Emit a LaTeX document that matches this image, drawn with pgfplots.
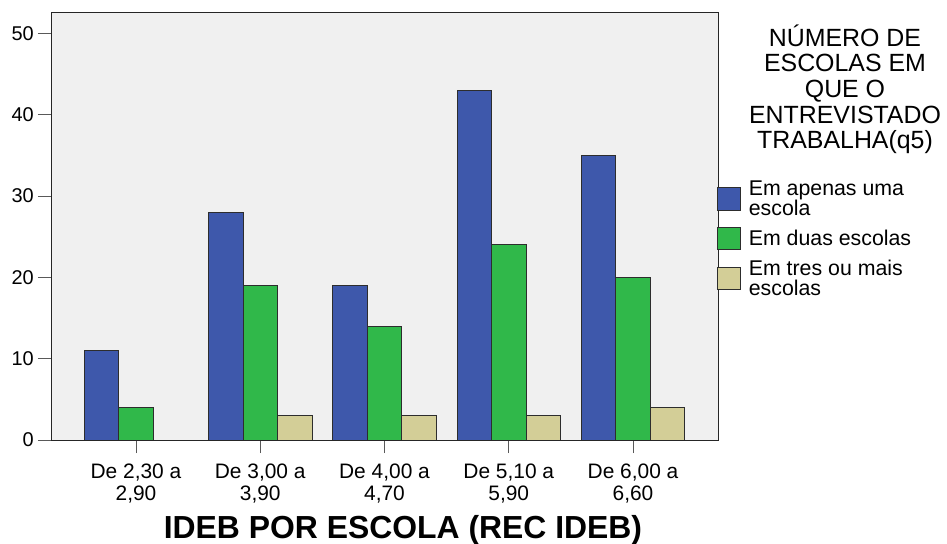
\documentclass[border=0pt]{standalone}
\usepackage{fontspec}
\setmainfont{Liberation Sans}
\usepackage{pgfplots}
\pgfplotsset{compat=1.18}

\definecolor{bgcol}{RGB}{240,240,240}
\definecolor{cblue}{RGB}{62,88,171}
\definecolor{cgreen}{RGB}{48,184,74}
\definecolor{ctan}{RGB}{211,206,151}
\definecolor{edge}{RGB}{45,45,45}

\begin{document}
\begin{tikzpicture}
\useasboundingbox (0,0) rectangle (947bp,544bp);
\begin{axis}[
  at={(51bp,104bp)}, anchor=south west,
  scale only axis, width=667bp, height=428bp,
  xmin=-0.684, xmax=4.684, ymin=0, ymax=52.64,
  axis background/.style={fill=bgcol},
  axis line style={draw=black!85, line width=0.9bp},
  tick pos=left, tick align=outside,
  major tick length=13bp,
  every tick/.style={draw=black!65, line width=0.9bp},
  xtick={0,1,2,3,4},
  xticklabels={{De 2,30 a\\2,90}, {De 3,00 a\\3,90}, {De 4,00 a\\4,70}, {De 5,10 a\\5,90}, {De 6,00 a\\6,60}},
  xticklabel style={align=center, inner sep=0pt, anchor=north, yshift=-11bp,
    font=\fontsize{21}{21.3}\selectfont},
  ytick={0,10,20,30,40,50},
  yticklabel style={inner sep=0pt, anchor=east, xshift=-4bp,
    font=\fontsize{20}{22}\selectfont},
  /pgf/number format/assume math mode=true,
  xlabel={IDEB POR ESCOLA (REC IDEB)},
  xlabel style={at={(axis description cs:0.5277,-0.2290)}, anchor=base,
    inner sep=0pt, font=\fontsize{32}{34}\selectfont\bfseries},
  ybar,
  bar width=0.2775,
  legend cell align=left,
  legend style={at={(axis description cs:0.999,0.6058)}, anchor=north west,
    draw=none, fill=none, inner sep=0pt, outer sep=0pt,
    row sep=10bp, column sep=8bp,
    nodes={inner sep=0pt, align=left, font=\fontsize{21.4}{20}\selectfont}},
  legend image code/.code={\draw[#1, draw=edge, line width=0.8bp] (0bp,-11.2bp) rectangle (22.7bp,11.2bp);},
]
\addplot[fill=cblue, draw=edge, line width=0.8bp, bar shift=-0.2775]
  coordinates {(0,11) (1,28) (2,19) (3,43) (4,35)};
\addlegendentry{Em apenas uma\\escola}
\addplot[fill=cgreen, draw=edge, line width=0.8bp, bar shift=0]
  coordinates {(0,4) (1,19) (2,14) (3,24) (4,20)};
\addlegendentry{Em duas escolas}
\addplot[fill=ctan, draw=edge, line width=0.8bp, bar shift=0.2775]
  coordinates {(1,3) (2,3) (3,3) (4,4)};
\addlegendentry{Em tres ou mais\\escolas}
\end{axis}
% title of the legend
\begin{scope}[every node/.style={anchor=base, inner sep=0pt, font=\fontsize{25}{26}\selectfont}]
\node at (845bp,{(544-46.7)*1bp}) {NÚMERO DE};
\node at (845bp,{(544-71.7)*1bp}) {ESCOLAS EM};
\node at (845bp,{(544-97.7)*1bp}) {QUE O};
\node at (845bp,{(544-123.3)*1bp}) {ENTREVISTADO};
\node at (845bp,{(544-148.3)*1bp}) {TRABALHA(q5)};
\end{scope}
\end{tikzpicture}
\end{document}
